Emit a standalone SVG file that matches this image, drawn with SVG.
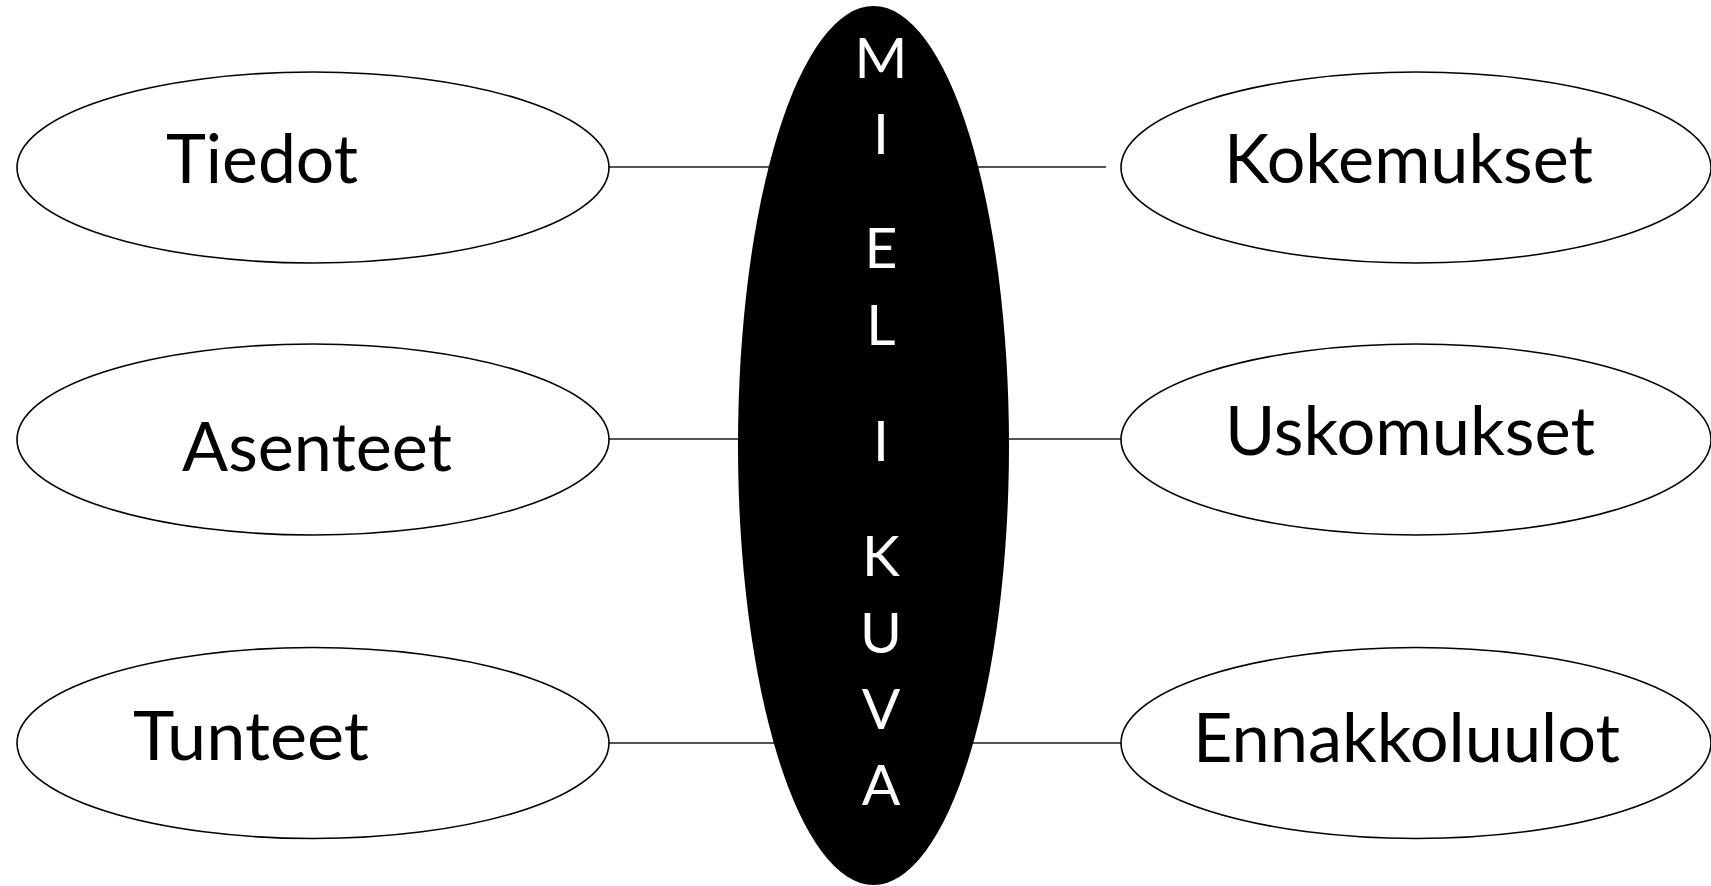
<svg xmlns="http://www.w3.org/2000/svg" width="1711" height="886" viewBox="0 0 1711 886">
  <style>
    .bubble { fill: #ffffff; stroke: #000000; stroke-width: 1.6; }
    .core { fill: #000000; stroke: none; }
    .link { stroke: #1a1a1a; stroke-width: 1.6; fill: none; }
    .label { font-family: Lato, "Open Sans", "Liberation Sans", sans-serif; font-size: 67px; fill: #000000; }
    .letter { font-family: Lato, "Open Sans", "Liberation Sans", sans-serif; font-size: 57px; fill: #ffffff; text-anchor: middle; }
  </style>

  <!-- connectors run behind the central shape -->
  <g id="connectors">
    <line class="link" x1="609" y1="167" x2="873" y2="167"/>
    <line class="link" x1="609" y1="439" x2="873" y2="439"/>
    <line class="link" x1="609" y1="743" x2="873" y2="743"/>
    <line class="link" x1="873" y1="167" x2="1106" y2="167"/>
    <line class="link" x1="873" y1="439" x2="1122" y2="439"/>
    <line class="link" x1="873" y1="743" x2="1122" y2="743"/>
  </g>

  <!-- left column -->
  <g id="tiedot">
    <ellipse class="bubble" cx="313" cy="167.5" rx="296" ry="95.5"/>
    <text class="label" x="166" y="183" textLength="192" lengthAdjust="spacingAndGlyphs">Tiedot</text>
  </g>
  <g id="asenteet">
    <ellipse class="bubble" cx="313" cy="439.5" rx="296" ry="95.5"/>
    <text class="label" x="182" y="471" textLength="270" lengthAdjust="spacingAndGlyphs">Asenteet</text>
  </g>
  <g id="tunteet">
    <ellipse class="bubble" cx="313" cy="743" rx="296" ry="95.5"/>
    <text class="label" x="133" y="760" textLength="236" lengthAdjust="spacingAndGlyphs">Tunteet</text>
  </g>

  <!-- right column -->
  <g id="kokemukset">
    <ellipse class="bubble" cx="1416" cy="167.5" rx="295" ry="95.5"/>
    <text class="label" x="1224" y="183" textLength="369" lengthAdjust="spacingAndGlyphs">Kokemukset</text>
  </g>
  <g id="uskomukset">
    <ellipse class="bubble" cx="1416" cy="439.5" rx="295" ry="95.5"/>
    <text class="label" x="1225" y="455" textLength="370" lengthAdjust="spacingAndGlyphs">Uskomukset</text>
  </g>
  <g id="ennakkoluulot">
    <ellipse class="bubble" cx="1416" cy="743" rx="295" ry="95.5"/>
    <text class="label" x="1193" y="762" textLength="427" lengthAdjust="spacingAndGlyphs">Ennakkoluulot</text>
  </g>

  <!-- central vertical shape with stacked letters -->
  <g id="mielikuva">
    <ellipse class="core" cx="873.5" cy="445.5" rx="135.5" ry="439.5"/>
    <text class="letter" x="881" y="78">M</text>
    <text class="letter" x="881" y="154">I</text>
    <text class="letter" x="881" y="268">E</text>
    <text class="letter" x="881" y="345">L</text>
    <text class="letter" x="881" y="461">I</text>
    <text class="letter" x="881" y="576">K</text>
    <text class="letter" x="881" y="653">U</text>
    <text class="letter" x="881" y="729">V</text>
    <text class="letter" x="881" y="805">A</text>
  </g>
</svg>
